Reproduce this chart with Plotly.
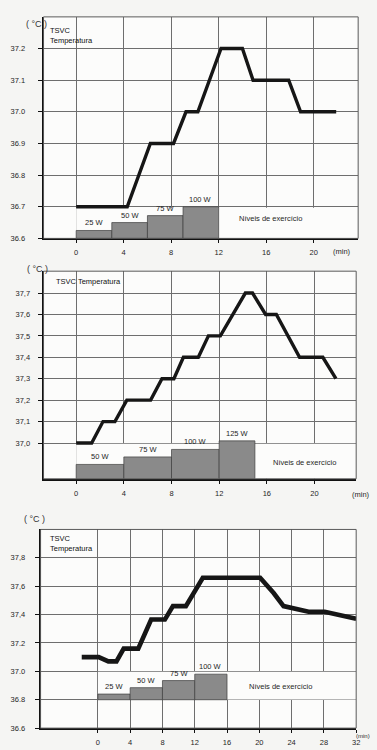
import plotly.graph_objects as go

# ---------------- data ----------------
# Panel 1
p1_time = [0, 4.3, 6.25, 8.2, 9.25, 10.25, 12.2, 14.0, 14.9, 17.9, 18.9, 21.9]
p1_temp = [36.7, 36.7, 36.9, 36.9, 37.0, 37.0, 37.2, 37.2, 37.1, 37.1, 37.0, 37.0]
p1_bar_start = [0, 3, 6, 9]
p1_bar_width = [3, 3, 3, 3]
p1_bar_top = [36.625, 36.65, 36.672, 36.70]
p1_bar_labels = ["25 W", "50 W", "75 W", "100 W"]
p1_yticks = [36.6, 36.7, 36.8, 36.9, 37.0, 37.1, 37.2]
p1_yticktext = ["36.6", "36.7", "36.8", "36.9", "37.0", "37.1", "37.2"]
p1_xticks = [0, 4, 8, 12, 16, 20]

# Panel 2
p2_time = [0, 1.3, 2.25, 3.25, 4.25, 6.25, 7.2, 8.2, 9.0, 10.25, 11.1, 12.1, 14.2, 14.8,
           15.9, 16.8, 18.75, 20.7, 21.8]
p2_temp = [37.0, 37.0, 37.1, 37.1, 37.2, 37.2, 37.3, 37.3, 37.4, 37.4, 37.5, 37.5, 37.7, 37.7,
           37.6, 37.6, 37.4, 37.4, 37.3]
p2_bar_start = [0, 4, 8, 12]
p2_bar_width = [4, 4, 4, 3]
p2_bar_top = [36.90, 36.935, 36.97, 37.01]
p2_bar_labels = ["50 W", "75 W", "100 W", "125 W"]
p2_yticks = [37.0, 37.1, 37.2, 37.3, 37.4, 37.5, 37.6, 37.7]
p2_yticktext = ["37,0", "37,1", "37,2", "37,3", "37,4", "37,5", "37,6", "37,7"]
p2_xticks = [0, 4, 8, 12, 16, 20]

# Panel 3
p3_time = [-2.0, 0.1, 1.3, 2.3, 3.2, 5.0, 6.6, 8.3, 9.3, 10.9, 13.0, 20.1, 21.8, 23.0,
           26.1, 28.1, 32.0]
p3_temp = [37.1, 37.1, 37.07, 37.07, 37.16, 37.16, 37.365, 37.365, 37.46, 37.46, 37.66,
           37.66, 37.55, 37.46, 37.42, 37.42, 37.37]
p3_bar_start = [0, 4, 8, 12]
p3_bar_width = [4, 4, 4, 4]
p3_bar_top = [36.84, 36.885, 36.935, 36.98]
p3_bar_base = 36.8
p3_bar_labels = ["25 W", "50 W", "75 W", "100 W"]
p3_yticks = [36.6, 36.8, 37.0, 37.2, 37.4, 37.6, 37.8]
p3_yticktext = ["36.6", "36.8", "37.0", "37.2", "37,4", "37,6", "37,8"]
p3_xticks = [0, 4, 8, 12, 16, 20, 24, 28, 32]

y_unit = "( °C )"
x_unit = "(min)"
title_two_lines = "TSVC<br>Temperatura"
title_one_line = "TSVC Temperatura"
levels_label = "Níveis de exercício"

# ---------------- style ----------------
W, H = 377, 750
FONT = "Liberation Sans, Arial, sans-serif"
TXT = "#262626"
GRID = "#6e6e6e"
BAR = "#8a8a8a"
LINE = "#161616"
PLOT_BG = "#fcfcfb"

fig = go.Figure()

panels = [
    dict(t=p1_time, v=p1_temp, bs=p1_bar_start, bw=p1_bar_width, bt=p1_bar_top,
         base=36.6, lab=p1_bar_labels, lw=3.4, xa="x", ya="y"),
    dict(t=p2_time, v=p2_temp, bs=p2_bar_start, bw=p2_bar_width, bt=p2_bar_top,
         base=36.833, lab=p2_bar_labels, lw=3.4, xa="x2", ya="y2"),
    dict(t=p3_time, v=p3_temp, bs=p3_bar_start, bw=p3_bar_width, bt=p3_bar_top,
         base=p3_bar_base, lab=p3_bar_labels, lw=4.6, xa="x3", ya="y3"),
]

annotations = []
for p in panels:
    heights = [top - p["base"] for top in p["bt"]]
    fig.add_trace(go.Bar(
        x=p["bs"], y=heights, base=p["base"], width=p["bw"], offset=0,
        marker=dict(color=BAR, line=dict(color="#3e3e3e", width=0.7)),
        xaxis=p["xa"], yaxis=p["ya"], hoverinfo="skip"))
    fig.add_trace(go.Scatter(
        x=p["t"], y=p["v"], mode="lines",
        line=dict(color=LINE, width=p["lw"]),
        xaxis=p["xa"], yaxis=p["ya"], hoverinfo="skip"))
    for s, w, top, lab in zip(p["bs"], p["bw"], p["bt"], p["lab"]):
        annotations.append(dict(
            x=s + w / 2, y=top, xref=p["xa"], yref=p["ya"], text=lab,
            showarrow=False, yanchor="bottom", yshift=1,
            font=dict(size=7.5, color=TXT, family=FONT)))


def xax(domain, rng, ticks, anchor):
    return dict(domain=domain, range=rng, tickvals=ticks, ticktext=[str(t) for t in ticks],
                anchor=anchor, showgrid=True, gridcolor=GRID, gridwidth=1,
                zeroline=False, showline=True, linecolor="#111", linewidth=1.8,
                ticks="outside", ticklen=3, tickcolor="#111", ticklabelstandoff=3,
                tickfont=dict(size=7.5, color=TXT, family=FONT), fixedrange=True)


def yax(domain, rng, ticks, text, anchor, standoff):
    return dict(domain=domain, range=rng, tickvals=ticks, ticktext=text,
                anchor=anchor, showgrid=True, gridcolor=GRID, gridwidth=1,
                zeroline=False, showline=True, linecolor="#111", linewidth=1.8,
                ticks="outside", ticklen=4, tickcolor="#111",
                ticklabelstandoff=standoff,
                tickfont=dict(size=7.5, color=TXT, family=FONT), fixedrange=True)


fig.update_layout(
    width=W, height=H, margin=dict(l=0, r=0, t=0, b=0),
    paper_bgcolor="#f5f5f3", plot_bgcolor=PLOT_BG,
    showlegend=False, barmode="overlay",
    xaxis=xax([44 / W, 362 / W], [-2.75, 23.75], p1_xticks, "y"),
    yaxis=yax([1 - 240 / H, 1 - 17 / H], [36.6, 37.3], p1_yticks, p1_yticktext, "x", 11),
    xaxis2=xax([44 / W, 360 / W], [-2.74, 23.5], p2_xticks, "y2"),
    yaxis2=yax([1 - 482 / H, 1 - 273 / H], [36.833, 37.802], p2_yticks, p2_yticktext, "x2", 6),
    xaxis3=xax([41 / W, 360 / W], [-7.1, 32], p3_xticks, "y3"),
    yaxis3=yax([1 - 733 / H, 1 - 533 / H], [36.6, 38.0], p3_yticks, p3_yticktext, "x3", 8),
)

# white strips covering gridlines behind the exercise-level labels
shapes = [
    dict(type="rect", xref="x", yref="y", x0=0, x1=40, y0=36.6, y1=36.697,
         fillcolor=PLOT_BG, line=dict(width=0), layer="between"),
    dict(type="rect", xref="x2", yref="y2", x0=0, x1=40, y0=36.8, y1=36.997,
         fillcolor=PLOT_BG, line=dict(width=0), layer="between"),
    dict(type="rect", xref="x3", yref="y3", x0=0, x1=40, y0=36.802, y1=36.997,
         fillcolor=PLOT_BG, line=dict(width=0), layer="between"),
]
# thin top/right frame of each panel
for xa, ya in [("x", "y"), ("x2", "y2"), ("x3", "y3")]:
    shapes.append(dict(type="rect", xref=xa + " domain", yref=ya + " domain",
                       x0=0, x1=1, y0=0, y1=1, line=dict(color="#5a5a5a", width=1),
                       fillcolor="rgba(0,0,0,0)", layer="above"))
fig.update_layout(shapes=shapes)

label_font = dict(size=7.5, color=TXT, family=FONT)
unit_font = dict(size=9, color="#333", family=FONT)
annotations += [
    # unit labels
    dict(x=24 / W, y=1 - 17 / H, xref="paper", yref="paper", text=y_unit, showarrow=False,
         font=unit_font),
    dict(x=25 / W, y=1 - 271 / H, xref="paper", yref="paper", text=y_unit, showarrow=False,
         font=unit_font),
    dict(x=22 / W, y=1 - 530 / H, xref="paper", yref="paper", text=y_unit, showarrow=False,
         font=unit_font),
    dict(x=357 / W, y=1 - 253 / H, xref="paper", yref="paper", text=x_unit, showarrow=False,
         font=label_font),
    dict(x=376 / W, y=1 - 498 / H, xref="paper", yref="paper", text=x_unit, showarrow=False,
         xanchor="right", font=label_font),
    dict(x=376 / W, y=1 - 746 / H, xref="paper", yref="paper", text=x_unit, showarrow=False,
         xanchor="right", font=dict(size=6, color=TXT, family=FONT)),
    # titles
    dict(x=0.013, y=0.97, xref="x domain", yref="y domain", text=title_two_lines,
         showarrow=False, xanchor="left", yanchor="top", align="left",
         font=dict(size=7.5, color="#111", family=FONT)),
    dict(x=0.035, y=0.98, xref="x2 domain", yref="y2 domain", text=title_one_line,
         showarrow=False, xanchor="left", yanchor="top", align="left",
         font=dict(size=7.5, color="#111", family=FONT)),
    dict(x=0.022, y=0.985, xref="x3 domain", yref="y3 domain", text=title_two_lines,
         showarrow=False, xanchor="left", yanchor="top", align="left",
         font=dict(size=7.5, color="#111", family=FONT)),
    # exercise level labels
    dict(x=16.4, y=36.6625, xref="x", yref="y", text=levels_label, showarrow=False,
         font=label_font),
    dict(x=19.2, y=36.907, xref="x2", yref="y2", text=levels_label, showarrow=False,
         font=label_font),
    dict(x=22.6, y=36.89, xref="x3", yref="y3", text=levels_label, showarrow=False,
         font=label_font),
]
fig.update_layout(annotations=annotations)

fig.write_html("out.html")
